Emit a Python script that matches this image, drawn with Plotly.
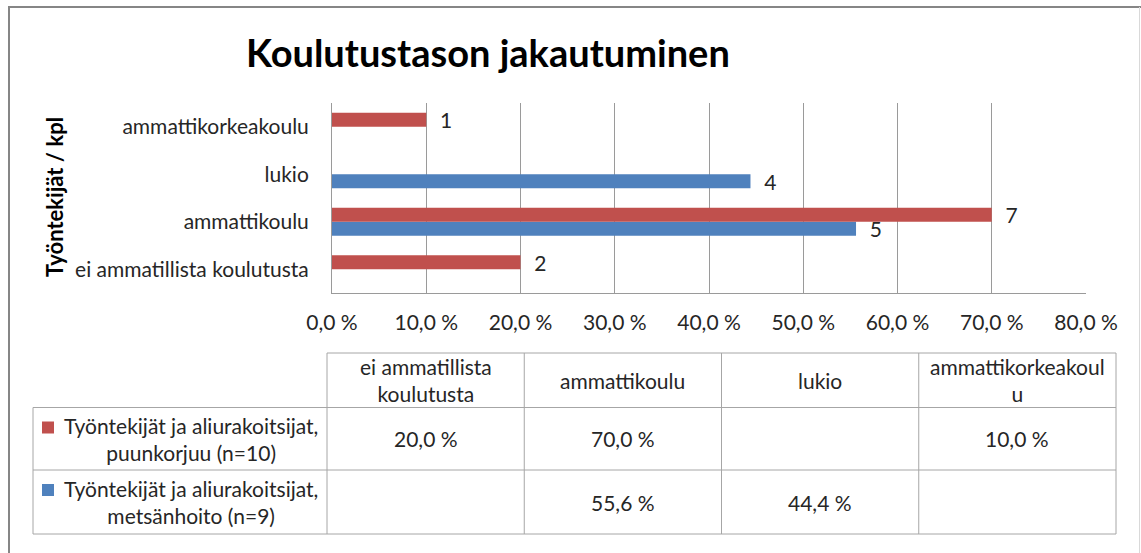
import plotly.graph_objects as go

# ---------------- data ----------------
categories = ["ei ammatillista koulutusta", "ammattikoulu", "lukio", "ammattikorkeakoulu"]
table_headers = ["ei ammatillista<br>koulutusta", "ammattikoulu", "lukio", "ammattikorkeakoul<br>u"]
series_names = ["Työntekijät ja aliurakoitsijat,<br>puunkorjuu (n=10)",
                "Työntekijät ja aliurakoitsijat,<br>metsänhoito (n=9)"]
puunkorjuu_pct = [20.0, 70.0, None, 10.0]
puunkorjuu_cnt = [2, 7, None, 1]
metsanhoito_pct = [None, 55.6, 44.4, None]
metsanhoito_cnt = [None, 5, 4, None]
x_ticks = [0, 10, 20, 30, 40, 50, 60, 70, 80]
x_ticktext = ["0,0 %", "10,0 %", "20,0 %", "30,0 %", "40,0 %", "50,0 %", "60,0 %", "70,0 %", "80,0 %"]

RED = "#C0504D"
BLUE = "#4F81BD"
FONT = "Lato"
TXT = "#262626"
FS = 21

W, H = 1141, 553
PL, PR, PT, PB = 332, 1086, 103, 293


def px(x):
    return (x - PL) / (PR - PL)


def py(y):
    return (PB - y) / (PB - PT)


def lbl(counts):
    return ["\u00a0\u00a0" + str(c) if c is not None else "" for c in counts]


fig = go.Figure()
fig.add_trace(go.Bar(
    y=categories, x=metsanhoito_pct, orientation="h", marker=dict(color=BLUE, line_width=0),
    text=lbl(metsanhoito_cnt), textposition="outside", cliponaxis=False, constraintext="none",
    textfont=dict(family=FONT, size=FS, color=TXT), name="metsänhoito", showlegend=False))
fig.add_trace(go.Bar(
    y=categories, x=puunkorjuu_pct, orientation="h", marker=dict(color=RED, line_width=0),
    text=lbl(puunkorjuu_cnt), textposition="outside", cliponaxis=False, constraintext="none",
    textfont=dict(family=FONT, size=FS, color=TXT), name="puunkorjuu", showlegend=False))

shapes = []
annotations = []

# outer chart border
GRAYB = "#868686"
shapes.append(dict(type="line", xref="paper", yref="paper", x0=px(9), x1=px(9), y0=py(6), y1=py(560),
                   line=dict(color=GRAYB, width=2)))
shapes.append(dict(type="line", xref="paper", yref="paper", x0=px(8), x1=px(1141), y0=py(7), y1=py(7),
                   line=dict(color=GRAYB, width=2)))
shapes.append(dict(type="line", xref="paper", yref="paper", x0=px(1139.5), x1=px(1139.5), y0=py(7), y1=py(560),
                   line=dict(color="#D9D9D9", width=1)))

# data table
TL, TR = 327, 1116
LEG_L = 33
T_TOP, T_H1, T_R1, T_R2 = 353, 407.5, 470, 534
TGRAY = "#A6A6A6"
ncol = len(categories)
cw = (TR - TL) / ncol
shapes.append(dict(type="line", xref="paper", yref="paper", x0=px(TL), x1=px(TR), y0=py(T_TOP), y1=py(T_TOP),
                   line=dict(color=TGRAY, width=1)))
for yy in (T_H1, T_R1, T_R2):
    shapes.append(dict(type="line", xref="paper", yref="paper", x0=px(LEG_L), x1=px(TR), y0=py(yy), y1=py(yy),
                       line=dict(color=TGRAY, width=1)))
shapes.append(dict(type="line", xref="paper", yref="paper", x0=px(LEG_L), x1=px(LEG_L), y0=py(T_H1), y1=py(T_R2),
                   line=dict(color=TGRAY, width=1)))
for i in range(ncol + 1):
    xx = TL + i * cw
    shapes.append(dict(type="line", xref="paper", yref="paper", x0=px(xx), x1=px(xx), y0=py(T_TOP), y1=py(T_R2),
                       line=dict(color=TGRAY, width=1)))

tfont = dict(family=FONT, size=FS, color=TXT)
for i, h in enumerate(table_headers):
    annotations.append(dict(xref="paper", yref="paper", x=px(TL + (i + 0.5) * cw), y=py((T_TOP + T_H1) / 2),
                            text=h, showarrow=False, font=tfont, xanchor="center", yanchor="middle"))


def fmt(v):
    return "" if v is None else f"{v:.1f}".replace(".", ",") + " %"


rows = [(puunkorjuu_pct, RED, T_H1, T_R1, series_names[0]),
        (metsanhoito_pct, BLUE, T_R1, T_R2, series_names[1])]
for vals, col, y0, y1, name in rows:
    yc = (y0 + y1) / 2
    for i, v in enumerate(vals):
        if v is None:
            continue
        annotations.append(dict(xref="paper", yref="paper", x=px(TL + (i + 0.5) * cw), y=py(yc),
                                text=fmt(v), showarrow=False, font=tfont, xanchor="center", yanchor="middle"))
    annotations.append(dict(xref="paper", yref="paper", x=px(191), y=py(yc), text=name, showarrow=False,
                            font=tfont, xanchor="center", yanchor="middle"))
    shapes.append(dict(type="rect", xref="paper", yref="paper", x0=px(42), x1=px(54),
                       y0=py(y0 + 14), y1=py(y0 + 26), line=dict(width=0), fillcolor=col))

# title
annotations.append(dict(xref="paper", yref="paper", x=px(488), y=py(52), text="<b>Koulutustason jakautuminen</b>",
                        showarrow=False, font=dict(family=FONT, size=38, color="#000000"),
                        xanchor="center", yanchor="middle"))
# y-axis title
annotations.append(dict(xref="paper", yref="paper", x=px(54), y=py(197), text="<b>Työntekijät / kpl</b>",
                        showarrow=False, textangle=-90, font=dict(family=FONT, size=22, color="#000000"),
                        xanchor="center", yanchor="middle"))

fig.update_layout(
    width=W, height=H,
    margin=dict(l=PL, r=W - PR, t=PT, b=H - PB, pad=0),
    paper_bgcolor="white", plot_bgcolor="white",
    barmode="group", bargap=0.41, bargroupgap=0,
    showlegend=False,
    shapes=shapes, annotations=annotations,
    xaxis=dict(range=[0, 80], tickvals=x_ticks, ticktext=x_ticktext, showgrid=True, gridcolor="#9A9A9A",
               gridwidth=1, zeroline=False, showline=True, linecolor="#9A9A9A", linewidth=1,
               ticks="", ticklabelstandoff=11, tickfont=dict(family=FONT, size=FS, color=TXT), fixedrange=True),
    yaxis=dict(categoryorder="array", categoryarray=categories, showgrid=False, zeroline=False,
               showline=True, linecolor="#9A9A9A", linewidth=1, ticks="", ticklabelstandoff=18,
               tickfont=dict(family=FONT, size=FS, color=TXT), fixedrange=True),
)

fig.write_html("out.html", config={"displayModeBar": False},
               post_script="document.body.style.margin='0';document.body.style.overflow='hidden';")
